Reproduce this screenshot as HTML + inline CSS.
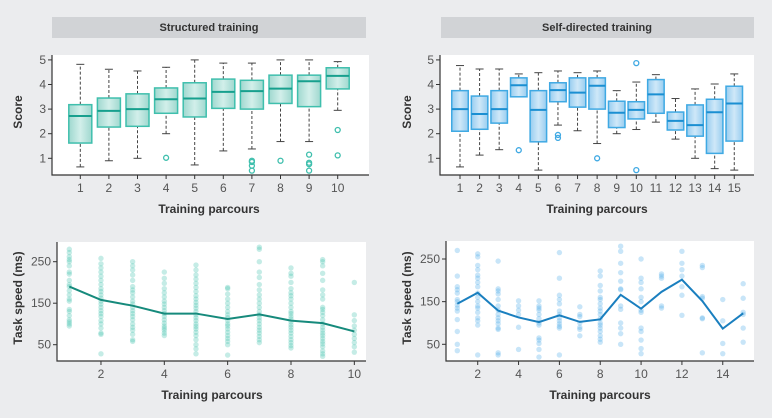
<!DOCTYPE html>
<html><head><meta charset="utf-8"><style>
html,body{margin:0;padding:0;background:#ebecee;}
svg{display:block;font-family:"Liberation Sans",sans-serif;}
.tk{font-size:12px;fill:#555;}
.tt{font-size:12px;font-weight:bold;fill:#333;}
.hd{font-size:11px;font-weight:bold;fill:#333;}
</style></head><body>
<svg id="s" width="772" height="418" viewBox="0 0 772 418">
<rect x="0" y="0" width="772" height="418" fill="#ebecee"/>
<defs>
<linearGradient id="gt" x1="0" x2="1"><stop offset="0" stop-color="#9fd8cf"/><stop offset="0.5" stop-color="#d2efea"/><stop offset="1" stop-color="#9fd8cf"/></linearGradient>
<linearGradient id="gb" x1="0" x2="1"><stop offset="0" stop-color="#98cdf0"/><stop offset="0.5" stop-color="#cfe8f8"/><stop offset="1" stop-color="#98cdf0"/></linearGradient>
</defs>
<rect x="52" y="17" width="314" height="21" fill="#d1d3d6"/>
<text class="hd" x="209" y="31" text-anchor="middle">Structured training</text>
<rect x="441" y="17" width="313" height="21" fill="#d1d3d6"/>
<text class="hd" x="597" y="31" text-anchor="middle">Self-directed training</text>
</svg>
<script>
// Box data: [low whisker, q1, median, q3, high whisker]
const structBoxes = [[0.65,1.62,2.72,3.18,4.82],[0.9,2.27,2.93,3.45,4.62],[1.0,2.3,3.0,3.62,4.55],[2.0,2.83,3.4,3.86,4.7],[0.73,2.68,3.43,4.07,5.0],[1.3,3.03,3.7,4.22,4.87],[1.38,3.0,3.73,4.17,4.87],[1.68,3.23,3.83,4.38,5.0],[1.68,3.1,4.13,4.38,5.0],[2.95,3.82,4.35,4.68,4.93]];
const structOutliers = [[],[],[],[1.02],[],[],[0.9,0.85,0.7,0.5],[0.9],[1.15,0.82,0.76,0.5],[2.15,1.12]];
const selfBoxes = [[0.65,2.1,3.0,3.75,4.77],[1.13,2.18,2.8,3.53,4.63],[1.35,2.43,3.0,3.75,4.63],[3.5,3.5,3.97,4.27,4.43],[0.52,1.67,2.97,3.75,4.48],[2.35,3.3,3.77,4.07,4.55],[2.12,3.08,3.67,4.27,4.48],[1.6,3.0,3.95,4.27,4.55],[2.0,2.25,2.85,3.32,3.75],[2.17,2.6,2.97,3.3,4.1],[2.47,2.83,3.6,4.2,4.4],[1.78,2.15,2.52,2.88,3.43],[1.0,1.9,2.35,3.17,3.82],[0.58,1.2,2.87,3.4,4.02],[0.52,1.7,3.23,3.93,4.43]];
const selfOutliers = [[],[],[],[1.33],[],[1.95,1.83],[],[1.0],[],[4.87,0.52],[],[],[],[],[]];
const scoreTicks = [1,2,3,4,5];
const structMeans = [190,158,144,125,125,112,123,108,102,82];
const selfMeans = [145,171,129,113,102,118,102.5,108.6,166,133.6,173,201.6,151.5,86.7,122.7];
const structDots = [[280,272,262,255,250,240,225,220,205,195,190,180,170,160,155,135,130,120,110,105,100,95],[258,245,235,225,215,205,195,185,178,170,162,155,148,140,132,125,118,108,100,90,78,75,28],[250,240,230,218,205,190,182,175,165,155,148,140,132,125,118,110,100,92,85,75,62,58],[225,210,198,185,175,165,155,148,140,132,125,118,110,102,95,90,85,78,72],[242,230,218,208,198,188,178,168,160,152,145,138,130,122,115,108,100,94,88,80,72,62,50,40,28],[188,185,172,160,150,140,130,122,115,108,100,95,88,80,72,65,58,50,25],[285,280,250,225,212,195,182,170,160,150,140,130,122,115,108,100,92,85,78,70,62,55],[235,222,215,200,185,175,168,160,150,140,130,125,118,112,105,98,92,85,78,70,62,55,48,42],[255,250,240,222,205,182,170,160,140,135,128,120,110,100,92,85,78,72,65,58,52,45,35,28,22],[200,122,108,95,85,75,65,55,45,32]];
const selfDots = [[270,210,185,178,170,155,150,142,135,128,108,80,50,35],[262,255,235,225,212,205,195,185,170,160,150,140,135,125,112,105,95,25],[245,180,175,168,155,140,130,120,112,105,98,88,85,30,25],[152,140,130,120,90,38],[152,140,135,130,120,110,100,95,65,60,52,38,20],[265,205,165,155,145,128,120,112,105,98,92,88,25],[138,120,115,100,90,85,70],[222,210,188,175,160,155,145,135,128,120,110,100,95,88,80,70,62,55],[280,268,240,218,198,180,178,140,132,100,88,75,50],[250,205,195,180,160,150,130,125,88,80,60,40,28],[215,210,205,140,135],[268,240,225,210,185,165,118],[235,230,162,158,112,110,30],[155,105,52,28],[192,158,125,120,88,55]];
const speedTicks = [50,150,250];
const structXTicks = [2,4,6,8,10];
const selfXTicks = [2,4,6,8,10,12,14];

const svg = document.getElementById('s');
const NS = 'http://www.w3.org/2000/svg';
function mk(tag, attrs, parent){const e=document.createElementNS(NS,tag);for(const k in attrs)e.setAttribute(k,attrs[k]);(parent||svg).appendChild(e);return e;}
function txt(s,attrs,parent){const e=mk('text',attrs,parent);e.textContent=s;return e;}

function frame(x0,x1,y0,y1,name){
  const r=mk('rect',{x:x0,y:y0,width:x1-x0,height:y1-y0,fill:'#fff'});
  
  
  const a=mk('path',{d:`M${x0},${y0}V${y1}H${x1}`,stroke:'#333','stroke-width':1.2,fill:'none'});
  
  
}
function yAxis(x0,ticks,ys,title,tx,ty,name){
  ticks.forEach(t=>{const y=ys(t);
    mk('line',{x1:x0-4,x2:x0,y1:y,y2:y,stroke:'#333'});
    const l=txt(String(t),{class:'tk',x:x0-6,y:y+4,'text-anchor':'end'});
    
    
  });
  const tt=txt(title,{class:'tt',x:tx,y:ty,'text-anchor':'middle',transform:`rotate(-90 ${tx} ${ty})`});
  
  
}
function xAxis(y1,ticks,xs,ty,cx,name){
  ticks.forEach(t=>{const x=xs(t);
    mk('line',{x1:x,x2:x,y1:y1,y2:y1+4,stroke:'#333'});
    const l=txt(String(t),{class:'tk',x:x,y:ty,'text-anchor':'middle'});
    
    
  });
  const tt=txt('Training parcours',{class:'tt',x:cx,y:ty+21,'text-anchor':'middle'});
  
  
}
function boxplot(cfg){
  const {x0,x1,boxes,outs,xs,ys,bw,grad,stroke,med,name}=cfg;
  frame(x0,x1,55,175,name);
  boxes.forEach((b,i)=>{
    const cx=xs(i+1);
    const g=mk('g',{});
    
    
    mk('line',{x1:cx,x2:cx,y1:ys(b[0]),y2:ys(b[1]),stroke:'#444','stroke-dasharray':'3,2'},g);
    mk('line',{x1:cx,x2:cx,y1:ys(b[3]),y2:ys(b[4]),stroke:'#444','stroke-dasharray':'3,2'},g);
    mk('line',{x1:cx-4,x2:cx+4,y1:ys(b[0]),y2:ys(b[0]),stroke:'#444'},g);
    mk('line',{x1:cx-4,x2:cx+4,y1:ys(b[4]),y2:ys(b[4]),stroke:'#444'},g);
    mk('rect',{x:cx-bw/2,y:ys(b[3]),width:bw,height:Math.max(ys(b[1])-ys(b[3]),0.5),fill:grad,stroke:stroke,'stroke-width':1.5},g);
    mk('line',{x1:cx-bw/2,x2:cx+bw/2,y1:ys(b[2]),y2:ys(b[2]),stroke:med,'stroke-width':2},g);
    outs[i].forEach(o=>{
      const c=mk('circle',{cx:cx,cy:ys(o),r:2.5,fill:'none',stroke:stroke,'stroke-width':1.3},g);
      
      
    });
  });
}
const sY = v=>158.3-(v-1)*24.6;
const sxL = i=>80.3+(i-1)*28.6;
boxplot({x0:52,x1:369,boxes:structBoxes,outs:structOutliers,xs:sxL,ys:sY,bw:23,grad:'url(#gt)',stroke:'#3fbfad',med:'#17a08e',name:'structured-score'});
yAxis(52,scoreTicks,sY,'Score',22,112,'structured-score');
xAxis(175,structBoxes.map((_,i)=>i+1),sxL,192,209,'structured-score');

const sxR = i=>460+(i-1)*19.59;
boxplot({x0:440,x1:754,boxes:selfBoxes,outs:selfOutliers,xs:sxR,ys:sY,bw:16.5,grad:'url(#gb)',stroke:'#3fa9e3',med:'#1b8fd2',name:'self-score'});
yAxis(440,scoreTicks,sY,'Score',411,112,'self-score');
xAxis(175,selfBoxes.map((_,i)=>i+1),sxR,192,597,'self-score');

function scatter(cfg){
  const {x0,x1,y0,dots,means,xs,ys,dot,line,xt,cx,name}=cfg;
  frame(x0,x1,y0,361,name);
  dots.forEach((col,i)=>col.forEach(v=>{
    const c=mk('circle',{cx:xs(i+1),cy:ys(v),r:2.7,fill:dot,'fill-opacity':0.3});
    
    
  }));
  const p=mk('polyline',{points:means.map((m,i)=>xs(i+1)+','+ys(m)).join(' '),fill:'none',stroke:line,'stroke-width':2});
  
  
  yAxis(x0,speedTicks,ys,'Task speed (ms)',22+(x0>400?389:0),298,name);
  xAxis(361,xt,xs,378,cx,name);
}
const bxL=i=>69.3+(i-1)*31.67, byL=v=>344.7-(v-50)*0.415;
scatter({x0:57,x1:366,y0:242,dots:structDots,means:structMeans,xs:bxL,ys:byL,dot:'#3fbfad',line:'#168a7c',xt:structXTicks,cx:212,name:'structured-speed'});
const bxR=i=>457.3+(i-1)*20.42, byR=v=>344.3-(v-50)*0.4265;
scatter({x0:446,x1:754,y0:241,dots:selfDots,means:selfMeans,xs:bxR,ys:byR,dot:'#4aa8e8',line:'#1a7fbf',xt:selfXTicks,cx:600,name:'self-speed'});
</script>
</body></html>
